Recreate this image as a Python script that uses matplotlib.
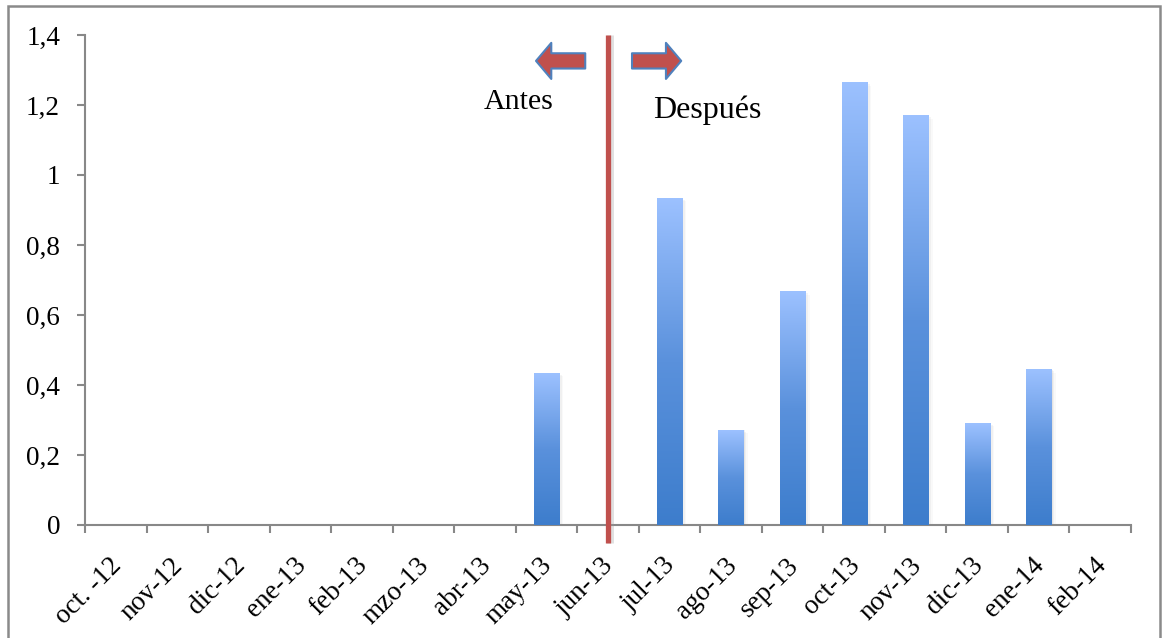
import numpy as np
import matplotlib
matplotlib.use("Agg")
import matplotlib.pyplot as plt
from matplotlib.colors import LinearSegmentedColormap
from matplotlib.patches import Rectangle

plt.rcParams['font.family'] = ['Liberation Serif', 'DejaVu Serif']

meses = ['oct. -12', 'nov-12', 'dic-12', 'ene-13', 'feb-13', 'mzo-13', 'abr-13',
         'may-13', 'jun-13', 'jul-13', 'ago-13', 'sep-13', 'oct-13', 'nov-13',
         'dic-13', 'ene-14', 'feb-14']
valores = [0, 0, 0, 0, 0, 0, 0, 0.434, 0, 0.934, 0.271, 0.666, 1.263, 1.169,
           0.291, 0.443, 0]
y_ticks = [0, 0.2, 0.4, 0.6, 0.8, 1.0, 1.2, 1.4]
y_labels = ['0', '0,2', '0,4', '0,6', '0,8', '1', '1,2', '1,4']
corte = 'jun-13'

fig = plt.figure(figsize=(11.63, 6.38), dpi=100)
ax = fig.add_axes([85 / 1163, 1 - 525 / 638, (1131 - 85) / 1163, 490 / 638])

x = np.arange(len(meses))
ancho = 0.41
cmap = LinearSegmentedColormap.from_list('azul', ['#3d7dcc', '#5a91dc', '#9cc1ff'])
grad = np.linspace(0, 1, 256).reshape(-1, 1)

bars = ax.bar(x, valores, width=ancho, color='none', edgecolor='none', zorder=3)
for b in bars:
    h = b.get_height()
    if h <= 0:
        continue
    x0, w = b.get_x(), b.get_width()
    # soft shadow to the right
    for k, a in enumerate([0.10, 0.07, 0.04]):
        ax.add_patch(Rectangle((x0 + 0.02 + k * 0.025, 0), w, h - 0.004 * k,
                               color='#7a7a7a', alpha=a, lw=0, zorder=2))
    ax.imshow(grad, cmap=cmap, origin='lower', aspect='auto',
              extent=(x0, x0 + w, 0, h), zorder=3, interpolation='bilinear')

# before / after divider
xc = meses.index(corte)
ax.plot([xc + 0.03, xc + 0.03], [-0.05, 1.4], color='#999999', alpha=0.3, lw=5,
        clip_on=False, zorder=4, solid_capstyle='butt')
ax.plot([xc, xc], [-0.05, 1.4], color='#c0504d', lw=3.8, clip_on=False, zorder=5,
        solid_capstyle='butt')

arrow = dict(arrowstyle='simple,head_length=0.55,head_width=1.3,tail_width=0.55',
             fc='#c0504d', ec='#4f81bd', lw=1.5, shrinkA=0, shrinkB=0)
ax.annotate('', xy=(xc - 1.17, 1.326), xytext=(xc - 0.37, 1.326),
            arrowprops=dict(mutation_scale=20, **arrow), zorder=6)
ax.annotate('', xy=(xc + 1.19, 1.326), xytext=(xc + 0.39, 1.326),
            arrowprops=dict(mutation_scale=20, **arrow), zorder=6)
ax.text(xc - 1.45, 1.209, 'Antes', ha='center', va='center', fontsize=21.5)
ax.text(xc + 1.61, 1.186, 'Después', ha='center', va='center', fontsize=23)

ax.set_xlim(-0.5, len(meses) - 0.5)
ax.set_ylim(0, 1.4)
ax.set_yticks(y_ticks)
ax.set_yticklabels(y_labels, fontsize=19.5)
ax.set_xticks(x)
ax.set_xticklabels(meses, fontsize=19.5, rotation=45, ha='right',
                   va='center_baseline', rotation_mode='anchor')
ax.set_xticks(np.arange(-0.5, len(meses)), minor=True)
ax.tick_params(axis='x', which='major', length=0, pad=25)
ax.tick_params(axis='x', which='minor', length=6, width=1.5, color='#888888',
               direction='out')
ax.tick_params(axis='y', length=6, width=1.5, color='#888888', pad=12)

for s in ['top', 'right']:
    ax.spines[s].set_visible(False)
for s in ['left', 'bottom']:
    ax.spines[s].set_color('#888888')
    ax.spines[s].set_linewidth(1.5)

# outer frame
fig.patches.append(Rectangle((8 / 1163, -0.02), 1152 / 1163, 1 - 6 / 638 + 0.02,
                             transform=fig.transFigure, fill=False,
                             ec='#8a8a8a', lw=1.8))

fig.savefig('out.png', dpi=100)
